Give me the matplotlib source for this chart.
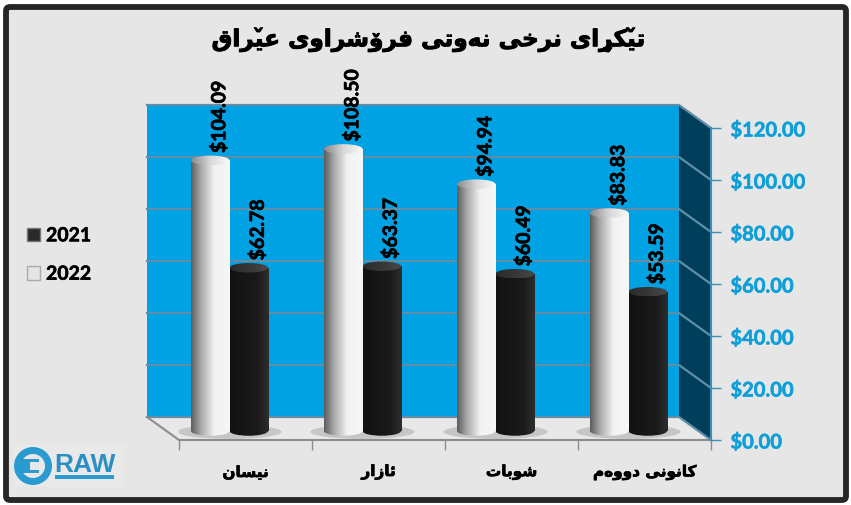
import numpy as np
import matplotlib
matplotlib.use("Agg")
import matplotlib.pyplot as plt
import matplotlib.patheffects as pe
from matplotlib.colors import LinearSegmentedColormap
from matplotlib.patches import Ellipse, FancyBboxPatch, Polygon, Rectangle, Circle, Patch

# data, left to right as in the picture
categories = ["نیسان", "ئازار", "شوبات", "کانونی دووەم"]
values_2022 = [104.09, 108.50, 94.94, 83.83]
values_2021 = [62.78, 63.37, 60.49, 53.59]
y_ticks = [0, 20, 40, 60, 80, 100, 120]
title = "تێکڕای نرخی نەوتی فرۆشراوی عێراق"

# (isolated, final, initial, medial) presentation forms, matplotlib does no shaping
FORMS = {
    "ت": "\uFE95\uFE96\uFE97\uFE98", "ی": "\uFEEF\uFEF0\uFEF3\uFEF4",
    "ک": "\uFB8E\uFB8F\uFB90\uFB91", "ن": "\uFEE5\uFEE6\uFEE7\uFEE8",
    "خ": "\uFEA5\uFEA6\uFEA7\uFEA8", "ف": "\uFED1\uFED2\uFED3\uFED4",
    "ش": "\uFEB5\uFEB6\uFEB7\uFEB8", "ع": "\uFEC9\uFECA\uFECB\uFECC",
    "ق": "\uFED5\uFED6\uFED7\uFED8", "ئ": "\uFE89\uFE8A\uFE8B\uFE8C",
    "س": "\uFEB1\uFEB2\uFEB3\uFEB4", "ب": "\uFE8F\uFE90\uFE91\uFE92",
    "م": "\uFEE1\uFEE2\uFEE3\uFEE4",
    "ا": "\uFE8D\uFE8E", "ر": "\uFEAD\uFEAE", "ز": "\uFEAF\uFEB0",
    "و": "\uFEED\uFEEE", "د": "\uFEA9\uFEAA", "ە": "\uFEE9\uFEEA",
    "ۆ": "\uFBD9\uFBDA",
}
# letters with no forms of their own: base letter plus a mark
MARKED = {"ێ": ("ی", "\u030C"), "ڕ": ("ر", "\u032C")}


def shape(text):
    out = []
    for word in text.split(" "):
        letters = [MARKED.get(c, (c, "")) for c in word]
        glyphs = []
        for i, (c, mark) in enumerate(letters):
            forms = FORMS[c]
            joins_prev = i > 0 and len(FORMS[letters[i - 1][0]]) == 4
            joins_next = i < len(letters) - 1 and len(forms) == 4
            if joins_prev and joins_next:
                g = forms[3]
            elif joins_next:
                g = forms[2]
            elif joins_prev:
                g = forms[1]
            else:
                g = forms[0]
            glyphs.append(g + mark)
        out.append("".join(reversed(glyphs)))
    return " ".join(reversed(out))


def thicken(txt, lw=0.45):
    txt.set_path_effects([pe.withStroke(linewidth=lw, foreground=txt.get_color())])


W, H = 851, 505
fig = plt.figure(figsize=(W / 100, H / 100), dpi=100, facecolor="white")

# frame and logo live in a pixel sized axes behind the chart
bg = fig.add_axes([0, 0, 1, 1], zorder=0)
bg.set_xlim(0, W)
bg.set_ylim(H, 0)
bg.axis("off")
bg.add_patch(FancyBboxPatch((6, 7), 840, 493, boxstyle="round,pad=0,rounding_size=4",
                            fc="#e6e6e6", ec="#262626", lw=4.2))
bg.add_patch(Rectangle((13, 445), 112, 42, fc="#e9e9e9", ec="none"))
bg.add_patch(Circle((33, 466), 19, fc="#2a9bd0", ec="none"))
bg.add_patch(Circle((33, 466), 12, fc="#e8e8e8", ec="none"))
bg.add_patch(Rectangle((15, 459), 24, 14, fc="#2a9bd0", ec="none"))
bg.add_patch(Rectangle((30, 462), 9, 8, fc="#e8e8e8", ec="none"))
bg.text(85, 465, "RAW", color="#2a8fc4", fontsize=19, fontweight="bold",
        family="Liberation Sans", ha="center", va="center")
bg.add_patch(Rectangle((55, 475), 59, 4, fc="#2a9bd0", ec="none"))

# main axes = front plane of the 3D box
L, R, B, T = 179, 711, 440, 128
ax = fig.add_axes([L / W, 1 - B / H, (R - L) / W, (B - T) / H], zorder=1)
ax.patch.set_visible(False)
for s in ax.spines.values():
    s.set_visible(False)

DX = -32 / 133       # depth of the box in data units
DY = 23 / 2.6
xmax, ymax = len(categories), y_ticks[-1]

ax.add_patch(Polygon([(DX, DY), (xmax + DX, DY), (xmax + DX, ymax + DY), (DX, ymax + DY)],
                     fc="#00a2e3", ec="none", clip_on=False, zorder=1))
ax.add_patch(Polygon([(xmax + DX, DY), (xmax, 0), (xmax, ymax), (xmax + DX, ymax + DY)],
                     fc="#003f5c", ec="none", clip_on=False, zorder=1))
ax.add_patch(Polygon([(DX, DY), (xmax + DX, DY), (xmax, 0), (0, 0)],
                     fc="#e8e8e8", ec="none", clip_on=False, zorder=1))
for v in y_ticks:
    ax.plot([DX, xmax + DX, xmax], [v + DY, v + DY, v], color="#5f8ea6", lw=1.6,
            clip_on=False, zorder=2, solid_joinstyle="miter")
ax.plot([DX, 0, xmax], [DY, 0, 0], color="#8c8c8c", lw=1.5, clip_on=False, zorder=3)
ax.plot([xmax, xmax], [0, ymax], color="#3d8fb5", lw=1.5, clip_on=False, zorder=3)

white_body = LinearSegmentedColormap.from_list(
    "wb", [(0, "#5c5c5c"), (0.25, "#a8a8a8"), (0.6, "#f2f2f2"), (1, "#f7f7f7")])
white_top = LinearSegmentedColormap.from_list(
    "wt", [(0, "#8a8a8a"), (0.5, "#d8d8d8"), (1, "#fafafa")])
black_body = LinearSegmentedColormap.from_list(
    "kb", [(0, "#121212"), (0.7, "#1a1a1a"), (1, "#2e2e2e")])
black_top = LinearSegmentedColormap.from_list(
    "kt", [(0, "#2b2b2b"), (0.6, "#3a3a3a"), (1, "#4a4a4a")])
grad = np.linspace(0, 1, 128).reshape(1, -1)

BAR_W = 0.29
BASE = 9 / 2.6       # bar feet sit this far up the floor
CAP = 9.5 / 2.6      # height of the cap ellipse


def fill_gradient(patch, cmap, z, xr, yr):
    ax.add_patch(patch)
    patch.set_visible(False)
    im = ax.imshow(grad, cmap=cmap, extent=[xr[0], xr[1], yr[0], yr[1]], aspect="auto",
                   zorder=z, interpolation="bilinear", vmin=0, vmax=1)
    im.set_clip_path(patch)


def cylinder(xc, value, body, top, z):
    x0, x1 = xc - BAR_W / 2, xc + BAR_W / 2
    y_top = BASE + value
    fill_gradient(Ellipse((xc, BASE), BAR_W, CAP), body, z,
                  (x0, x1), (BASE - CAP / 2, BASE + CAP / 2))
    fill_gradient(Rectangle((x0, BASE), BAR_W, value), body, z, (x0, x1), (BASE, y_top))
    fill_gradient(Ellipse((xc, y_top), BAR_W, CAP), top, z + 0.1,
                  (x0, x1), (y_top - CAP / 2, y_top + CAP / 2))


LABEL_DX = 9 / 133
for i, (v22, v21) in enumerate(zip(values_2022, values_2021)):
    c22 = i + 0.5 + DX / 2 - BAR_W / 2
    c21 = i + 0.5 + DX / 2 + BAR_W / 2
    ax.add_patch(Ellipse((i + 0.5 + DX / 2, BASE - 0.3), 2.7 * BAR_W, 5.5,
                         fc="#a5a5a5", ec="none", alpha=0.5, zorder=3))
    cylinder(c22, v22, white_body, white_top, 4)
    cylinder(c21, v21, black_body, black_top, 5)
    for c, v in ((c22, v22), (c21, v21)):
        t = ax.text(c + LABEL_DX, BASE + v + CAP / 2 + 1, f"${v:.2f}", rotation=90, ha="center",
                    va="bottom", fontsize=14, fontweight="bold", family="Lato", color="black",
                    zorder=6, clip_on=False)
        thicken(t, 0.5)

ax.set_xlim(0, xmax)
ax.set_ylim(0, ymax)

ax.set_xticks(range(xmax + 1))
ax.set_xticklabels([])
ax.set_xticks(np.arange(xmax) + 0.5, [shape(c) for c in categories], minor=True)
ax.tick_params(axis="x", which="major", length=7, width=1, color="#8c8c8c")
ax.tick_params(axis="x", which="minor", length=0, pad=18)
for lab in ax.get_xticklabels(minor=True):
    lab.set(fontsize=11, fontweight="bold", family="DejaVu Sans", color="black")
    thicken(lab, 0.5)

ax.yaxis.tick_right()
ax.set_yticks(y_ticks, [f"${v:.2f}" for v in y_ticks])
ax.tick_params(axis="y", length=7, width=1, color="#3d8fb5", pad=7)
for lab in ax.get_yticklabels():
    lab.set(fontsize=14.5, fontweight="bold", family="Lato", color="#0f9fd8")
    thicken(lab, 0.4)

tt = bg.text(428, 40, shape(title), fontsize=16.7, fontweight="bold", family="DejaVu Sans",
             ha="center", va="center", color="black")
thicken(tt, 0.7)

handles = [Patch(fc="#2a2a2a", ec="#777777", label="2021"),
           Patch(fc="#e4e4e4", ec="#aaaaaa", label="2022")]
leg = bg.legend(handles=handles, loc="center left", bbox_to_anchor=(27 / W, 1 - 255 / H),
                frameon=False, handlelength=0.68, handleheight=0.68, handletextpad=0.3,
                labelspacing=1.1, borderpad=0, borderaxespad=0,
                prop={"family": "Lato", "weight": "bold", "size": 14})
for lab in leg.get_texts():
    thicken(lab, 0.4)

fig.savefig("out.png", dpi=100)
